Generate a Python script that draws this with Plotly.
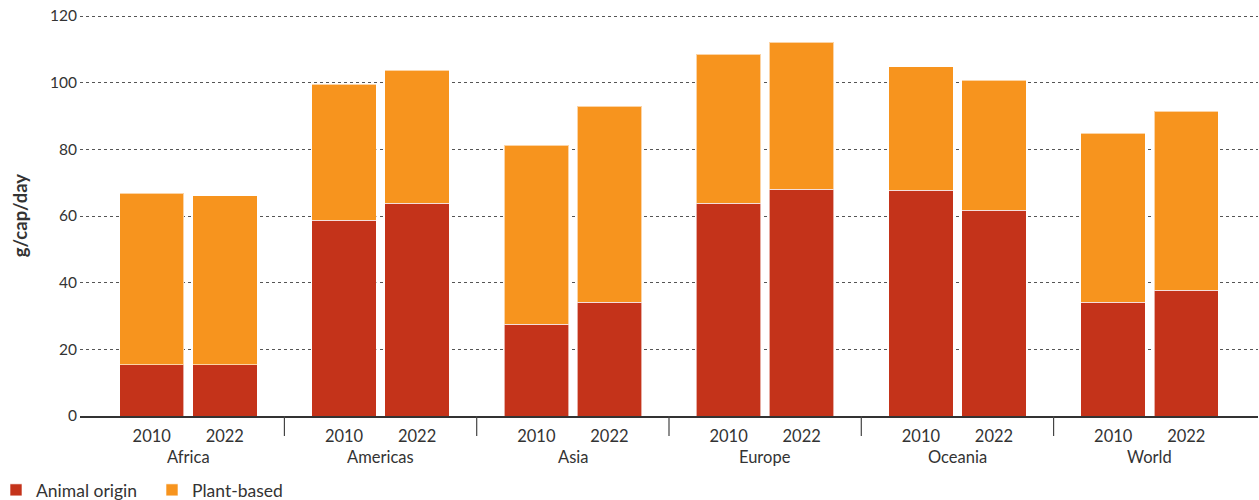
import plotly.graph_objects as go

regions = ["Africa", "Americas", "Asia", "Europe", "Oceania", "World"]
years = ["2010", "2022"]
animal_2010 = [15.4, 58.7, 27.6, 63.9, 67.8, 34.2]
animal_2022 = [15.4, 63.8, 34.2, 68.1, 61.8, 37.8]
total_2010 = [66.9, 99.5, 81.3, 108.5, 104.8, 84.8]
total_2022 = [66.1, 103.8, 93.0, 112.1, 100.8, 91.5]
plant_2010 = [round(t - a, 1) for t, a in zip(total_2010, animal_2010)]
plant_2022 = [round(t - a, 1) for t, a in zip(total_2022, animal_2022)]
y_ticks = [0, 20, 40, 60, 80, 100, 120]

ANIMAL = "#C4331A"
PLANT = "#F7941E"
TXT = "#333333"
FONT = "Lato, 'Open Sans', sans-serif"

offset = 0.19
bar_w = 0.335

xs, animal, plant, labels = [], [], [], []
for i, r in enumerate(regions):
    for j, (yr, a, p) in enumerate(zip(years, [animal_2010[i], animal_2022[i]], [plant_2010[i], plant_2022[i]])):
        xs.append(i + (offset if j else -offset))
        animal.append(a)
        plant.append(p)
        labels.append(yr)

fig = go.Figure()
fig.add_trace(go.Bar(x=xs, y=animal, name="Animal origin", width=bar_w,
                     marker=dict(color=ANIMAL, line=dict(color="rgba(255,255,255,0.6)", width=1))))
fig.add_trace(go.Bar(x=xs, y=plant, name="Plant-based", width=bar_w,
                     marker=dict(color=PLANT, line=dict(color="rgba(255,255,255,0.6)", width=1))))

# plot height in px is 402 for a range of 0..120.6 (same scale as 400px for 0..120)
PLOT_H = 402.0

# group dividers
for i in range(len(regions) - 1):
    fig.add_shape(type="line", xref="x", yref="paper", x0=i + 0.5, x1=i + 0.5, y0=0, y1=-20 / PLOT_H,
                  line=dict(color="#444444", width=1.2))

# region labels
for i, r in enumerate(regions):
    fig.add_annotation(x=i, y=-41 / PLOT_H, xref="x", yref="paper", text=r, showarrow=False,
                       xanchor="center", yanchor="middle", font=dict(size=16.5, color=TXT, family=FONT))

fig.add_annotation(x=-0.0508, y=(416 - 216) / PLOT_H, xref="paper", yref="paper", text="<b>g/cap/day</b>",
                   textangle=-90, showarrow=False, xanchor="center", yanchor="middle",
                   font=dict(size=18.5, color=TXT, family=FONT))

fig.update_layout(
    barmode="stack",
    width=1259, height=500,
    margin=dict(l=80, r=1, t=14, b=84, autoexpand=False),
    plot_bgcolor="white", paper_bgcolor="white",
    font=dict(family=FONT, color=TXT, size=15),
    showlegend=True,
    legend=dict(orientation="h", x=-0.0713, y=-74 / PLOT_H, xanchor="left", yanchor="middle",
                font=dict(size=17.5, color=TXT), itemwidth=30, traceorder="normal",
                entrywidth=111, entrywidthmode="pixels"),
    xaxis=dict(range=[-0.563, 5.563], tickmode="array", tickvals=xs, ticktext=labels,
               showgrid=False, zeroline=False, showline=True, linecolor="#333333", linewidth=1.5,
               ticks="", ticklabelstandoff=4, tickfont=dict(size=16.5, color=TXT)),
    yaxis=dict(range=[0, 120.6], tickvals=y_ticks, showgrid=True, gridcolor="#555555", griddash="dot",
               gridwidth=1, zeroline=False, showline=False, ticks="", ticklabelstandoff=2,
               tickfont=dict(size=15.5, color=TXT)),
)

# remove the browser's default 8px body margin so the figure sits at the window's corner
fig.write_html("out.html", config={"displayModeBar": False},
               post_script="document.body.style.margin='0px';")
